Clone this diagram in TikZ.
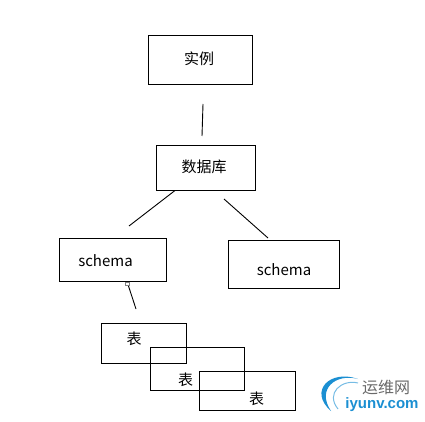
\documentclass[tikz,border=0pt]{standalone}
\usepackage{fontspec}
\usepackage{xcolor}
\setmainfont{Noto Sans}
\newfontfamily\cjk{Noto Sans CJK SC}
\newfontfamily\logofont{Liberation Sans}
\usetikzlibrary{positioning}
\definecolor{logoblue}{HTML}{1B8FD2}
\definecolor{logogray}{HTML}{6A6A6A}

\begin{document}
\begin{tikzpicture}[
  x=1pt, y=1pt,
  box/.style={draw, line width=1.2pt, inner sep=0pt, outer sep=0pt},
  txt/.style={font=\fontsize{15}{16}\selectfont\cjk, inner sep=0pt},
  lnk/.style={line width=0.9pt}
]
\useasboundingbox (0,0) rectangle (425,421);
% boxes
\node[box, minimum width=104pt, minimum height=49pt] (inst) at (200.5,361) {};
\node[box, minimum width=99pt, minimum height=45pt, below=61pt of inst, xshift=5.5pt] (db) {};
\node[box, minimum width=107pt, minimum height=43pt, below=48pt of db, xshift=-93pt] (schemaa) {};
\node[box, minimum width=111pt, minimum height=48pt, right=62pt of schemaa, yshift=-4.5pt] (schemab) {};
\node[box, minimum width=85pt, minimum height=40pt, below=42pt of schemaa, xshift=31pt] (taba) {};
\node[box, minimum width=94pt, minimum height=43pt, right=-36pt of taba, yshift=-25.5pt] (tabb) {};
\node[box, minimum width=96pt, minimum height=39pt, right=-45pt of tabb, yshift=-22pt] (tabc) {};
% labels
\node[txt, xshift=-1.5pt, yshift=1.5pt] (instt) at (inst) {实例};
\node[txt, xshift=-2pt, yshift=1pt] (dbt) at (db) {数据库};
\node[txt, xshift=-7.5pt, yshift=-1pt] (schemaat) at (schemaa) {schema};
\node[txt, xshift=0pt, yshift=-5.5pt] (schemabt) at (schemab) {schema};
\node[txt, xshift=-10pt, yshift=5pt] (tabat) at (taba) {表};
\node[txt, xshift=-12pt, yshift=-10.5pt] (tabbt) at (tabb) {表};
\node[txt, xshift=9pt, yshift=-7.5pt] (tabct) at (tabc) {表};
% free ends
\coordinate (c1) at (203,317);
\coordinate (c2) at (202,285);
\coordinate (c3) at (129,195);
\coordinate (c4) at (224,222);
\coordinate (c5) at (268,183);
\coordinate (c6) at (136,112);
\draw[lnk] (c1) -- (c2);
\draw[lnk] ([xshift=-31pt]db.south) -- (c3);
\draw[lnk] (c4) -- (c5);
\draw[lnk] ([xshift=14pt]schemaa.south) -- (c6);
\node[draw=gray, line width=0.5pt, inner sep=0pt, minimum size=3.5pt, fill=white] (hdl) at ([xshift=14pt,yshift=-2pt]schemaa.south) {};
% logo
\fill[logoblue] (358,42) .. controls (330,52) and (308,30) .. (331,10)
  .. controls (316,32) and (336,48) .. (358,42) -- cycle;
\draw[logoblue!60, line width=1pt] (358,38) .. controls (342,42) and (325,28) .. (338,12);
\node[font=\fontsize{16}{16}\selectfont\cjk, text=logogray, inner sep=0pt] (logoa) at (386,34) {运维网};
\node[font=\fontsize{15}{16}\selectfont\logofont\bfseries, text=logoblue, inner sep=0pt] (logob) at (382,16) {iyunv.com};
\end{tikzpicture}
\end{document}
